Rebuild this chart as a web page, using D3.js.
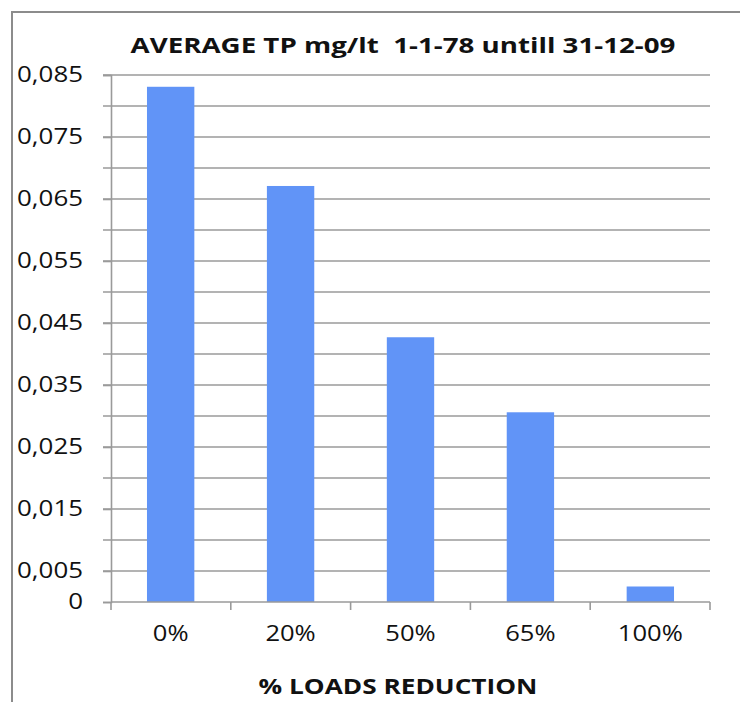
<!DOCTYPE html>
<html>
<head>
<meta charset="utf-8">
<script src="https://cdn.jsdelivr.net/npm/d3@7"></script>
<style>
  html, body { margin: 0; padding: 0; background: #fff; }
  svg { display: block; }
  text { font-family: "Open Sans", "DejaVu Sans", sans-serif; fill: #111; white-space: pre; }
</style>
</head>
<body>
<svg id="chart" width="740" height="702"></svg>
<script>
// Average total phosphorus per load-reduction scenario
const categories = ["0%", "20%", "50%", "65%", "100%"];
const tpValues = [0.0831, 0.0671, 0.0427, 0.0306, 0.0025];
const yTickLabels = [0, 0.005, 0.015, 0.025, 0.035, 0.045, 0.055, 0.065, 0.075, 0.085];
const gridValues = [0.005, 0.01, 0.015, 0.02, 0.025, 0.03, 0.035, 0.04, 0.045, 0.05,
                    0.055, 0.06, 0.065, 0.07, 0.075, 0.08, 0.085];
const titleText = "AVERAGE TP mg/lt  1-1-78 untill 31-12-09";
const xTitleText = "% LOADS REDUCTION";

const svg = d3.select("#chart");
const W = 740, H = 702;
const plot = { left: 111, right: 710, top: 75, bottom: 602 };

// Outer frame (top and left edges)
svg.append("path")
  .attr("d", `M12,${H} L12,12 L${W},12`)
  .attr("fill", "none")
  .attr("stroke", "#8c8c8c")
  .attr("stroke-width", 2);

const x = d3.scaleBand()
  .domain(categories)
  .range([plot.left, plot.right])
  .paddingInner(0.605)
  .paddingOuter(0.3);

const y = d3.scaleLinear()
  .domain([0, 0.085])
  .range([plot.bottom, plot.top]);

// Horizontal gridlines every 0.005
svg.append("g")
  .selectAll("line")
  .data(gridValues)
  .join("line")
  .attr("x1", plot.left - 8)
  .attr("x2", plot.right)
  .attr("y1", d => y(d))
  .attr("y2", d => y(d))
  .attr("stroke", "#9a9a9a")
  .attr("stroke-width", 1.6);

// Bars
svg.append("g")
  .selectAll("rect")
  .data(tpValues)
  .join("rect")
  .attr("x", (d, i) => x(categories[i]))
  .attr("width", x.bandwidth())
  .attr("y", d => y(d))
  .attr("height", d => y(0) - y(d))
  .attr("fill", "#6194f7");

// Y axis
const yAxis = d3.axisLeft(y)
  .tickValues(yTickLabels)
  .tickSize(8)
  .tickPadding(20)
  .tickFormat(d => d === 0 ? "0" : d3.format(".3f")(d).replace(".", ","));
const yG = svg.append("g")
  .attr("transform", `translate(${plot.left},0)`)
  .call(yAxis);
yG.select(".domain").attr("stroke", "#9a9a9a").attr("stroke-width", 1.6);
yG.selectAll(".tick line").attr("stroke", "#9a9a9a").attr("stroke-width", 1.6);
yG.selectAll(".tick text")
  .attr("font-size", 21)
  .attr("fill", "#111")
  .style("font-family", "'Open Sans', 'DejaVu Sans', sans-serif");

// X axis with ticks at band boundaries
const xBounds = d3.range(categories.length + 1).map(i => plot.left + i * (plot.right - plot.left) / categories.length);
svg.append("line")
  .attr("x1", plot.left).attr("x2", plot.right)
  .attr("y1", plot.bottom).attr("y2", plot.bottom)
  .attr("stroke", "#9a9a9a").attr("stroke-width", 1.6);
svg.append("g")
  .selectAll("line")
  .data(xBounds)
  .join("line")
  .attr("x1", d => d).attr("x2", d => d)
  .attr("y1", plot.bottom).attr("y2", plot.bottom + 8)
  .attr("stroke", "#9a9a9a").attr("stroke-width", 1.6);

const catLabels = svg.append("g")
  .selectAll("text")
  .data(categories)
  .join("text")
  .attr("x", d => x(d) + x.bandwidth() / 2)
  .attr("y", 641)
  .attr("text-anchor", "middle")
  .attr("font-size", 22)
  .text(d => d);

// Titles
const title = svg.append("text")
  .attr("x", 403).attr("y", 53)
  .attr("text-anchor", "middle")
  .attr("font-size", 21)
  .attr("font-weight", "bold")
  .text(titleText);

const xTitle = svg.append("text")
  .attr("x", 398).attr("y", 694)
  .attr("text-anchor", "middle")
  .attr("font-size", 21)
  .attr("font-weight", "bold")
  .text(xTitleText);

// Widen glyphs horizontally about each text's anchor point
function stretch(sel, targetWidth, refNode) {
  const w = refNode.getComputedTextLength();
  const sx = targetWidth / w;
  sel.each(function () {
    const t = d3.select(this);
    const ax = +t.attr("x") || 0;
    const prev = t.attr("transform") || "";
    t.attr("transform", `${prev} translate(${ax},0) scale(${sx},1) translate(${-ax},0)`);
  });
}
stretch(title, 545, title.node());
stretch(xTitle, 279, xTitle.node());
stretch(catLabels, 65, catLabels.nodes()[4]);
const yTexts = yG.selectAll(".tick text");
stretch(yTexts, 66, yTexts.nodes()[yTexts.size() - 1]);
</script>
</body>
</html>
